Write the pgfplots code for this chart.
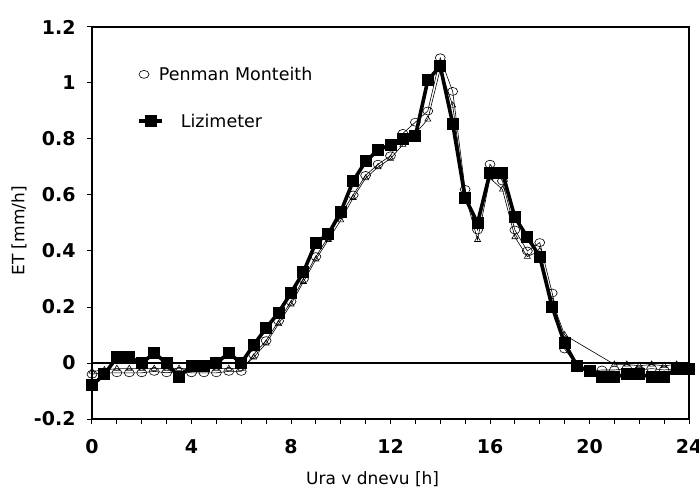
\documentclass[border=0pt]{standalone}
\usepackage{fontspec}
\setmainfont{DejaVu Sans}
\usepackage{pgfplots}
\pgfplotsset{compat=1.18}

% ET measured by lysimeter vs Penman-Monteith, hourly over a day
\pgfplotstableread{
x y
0 -0.08
0.5 -0.04
1 0.02
1.5 0.02
2 0.00
2.5 0.035
3 0.00
3.5 -0.05
4 -0.01
4.5 -0.01
5 0.00
5.5 0.035
6 0.00
6.5 0.064
7 0.125
7.5 0.18
8 0.25
8.5 0.325
9 0.43
9.5 0.46
10 0.54
10.5 0.65
11 0.72
11.5 0.76
12 0.78
12.5 0.80
13 0.81
13.5 1.01
14 1.06
14.5 0.855
15 0.59
15.5 0.50
16 0.68
16.5 0.68
17 0.52
17.5 0.45
18 0.38
18.5 0.20
19 0.07
19.5 -0.01
20 -0.03
20.5 -0.05
21 -0.05
21.5 -0.04
22 -0.04
22.5 -0.05
23 -0.05
23.5 -0.02
24 -0.02
}\lizi

\pgfplotstableread{
x y
0 -0.04
0.5 -0.035
1 -0.035
1.5 -0.035
2 -0.035
2.5 -0.03
3 -0.035
3.5 -0.03
4 -0.035
4.5 -0.035
5 -0.035
5.5 -0.03
6 -0.03
6.5 0.03
7 0.08
7.5 0.15
8 0.22
8.5 0.30
9 0.38
9.5 0.45
10 0.53
10.5 0.60
11 0.67
11.5 0.71
12 0.74
12.5 0.82
13 0.86
13.5 0.90
14 1.09
14.5 0.97
15 0.62
15.5 0.475
16 0.71
16.5 0.65
17 0.475
17.5 0.40
18 0.43
18.5 0.25
19 0.05
19.5 -0.01
20 -0.03
20.5 -0.025
21 -0.025
21.5 -0.02
22 -0.025
22.5 -0.02
23 -0.025
23.5 -0.02
24 -0.025
}\pm

\pgfplotstableread{
x y
0 -0.03
0.5 -0.025
1 -0.02
1.5 -0.02
2 -0.02
2.5 -0.02
3 -0.02
3.5 -0.02
4 -0.02
4.5 -0.02
5 -0.02
5.5 -0.02
6 -0.02
6.5 0.02
7 0.07
7.5 0.14
8 0.21
8.5 0.29
9 0.37
9.5 0.44
10 0.51
10.5 0.59
11 0.66
11.5 0.70
12 0.73
12.5 0.78
13 0.82
13.5 0.87
14 1.05
14.5 0.92
15 0.60
15.5 0.44
16 0.66
16.5 0.62
17 0.45
17.5 0.38
18 0.40
18.5 0.22
19 0.10
21 -0.005
21.5 -0.005
22 -0.01
22.5 -0.005
23 -0.01
23.5 -0.005
24 -0.01
}\tri

\begin{document}
\begin{tikzpicture}
\useasboundingbox (-92bp,-69bp) rectangle (607bp,419bp);
\begin{axis}[
  at={(0,0)}, anchor=south west,
  scale only axis, width=597bp, height=392bp,
  xmin=0, xmax=24, ymin=-0.2, ymax=1.2,
  xtick={0,4,...,24}, minor x tick num=3,
  ytick={-0.2,0,0.2,0.4,0.6,0.8,1,1.2},
  tick pos=left, tick align=outside,
  major tick length=5bp, minor tick length=5bp,
  axis line style={line width=1.6bp},
  every tick/.style={black, line width=1bp},
  /pgf/number format/assume math mode=true,
  ticklabel style={font=\fontsize{19bp}{21bp}\selectfont\bfseries},
  yticklabel style={/pgf/number format/fixed, xshift=-8bp},
  xticklabel style={yshift=-12bp},
  xlabel={Ura v dnevu [h]}, ylabel={ET [mm/h]},
  label style={font=\fontsize{17bp}{19bp}\selectfont, inner sep=0pt},
  xlabel style={at={(axis description cs:0.47,0)}, anchor=north, yshift=-52bp},
  ylabel style={at={(axis description cs:-0.1223,0.48)}, anchor=center},
  legend style={draw=none, fill=none, at={(axis cs:1.81,1.065)}, anchor=north west,
    font=\fontsize{17.5bp}{19bp}\selectfont, row sep=28bp, inner sep=0pt,
    cells={anchor=west}},
]
\addplot[black, line width=1.6bp, forget plot] coordinates {(0,0) (24,0)};
\addplot[black, line width=3.6bp, mark=square*, mark size=4.2bp, forget plot] table {\lizi};
\addplot[black, line width=0.6bp, mark=triangle, mark size=3.5bp, forget plot] table {\tri};
\addplot[black, line width=0.6bp, mark=o, mark size=5bp, mark options={yscale=0.8}, forget plot] table {\pm};

\addlegendimage{black, line width=0.6bp, only marks, mark=o, mark size=5bp, mark options={yscale=0.8},
  legend image code/.code={\draw plot coordinates {(5bp,0bp)};}}
\addlegendentry{\hspace*{-7bp}Penman Monteith}
\addlegendimage{black, line width=3.6bp, mark=square*, mark size=4.2bp,
  legend image code/.code={\draw[mark repeat=2, mark phase=2] plot coordinates {(0bp,0bp) (11.5bp,0bp) (23bp,0bp)};}}
\addlegendentry{\hspace*{15bp}Lizimeter}
\end{axis}
\end{tikzpicture}
\end{document}
